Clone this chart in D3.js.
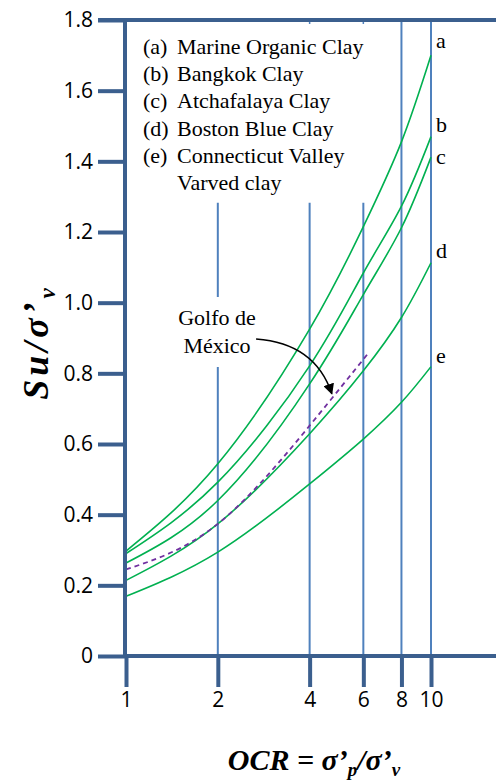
<!DOCTYPE html>
<html>
<head>
<meta charset="utf-8">
<script src="https://cdn.jsdelivr.net/npm/d3@7/dist/d3.min.js"></script>
<style>
  body { margin: 0; background: #fff; }
</style>
</head>
<body>
<div id="chart"></div>
<script>
// values
const ocr = [1, 2, 4, 6, 8, 10];
const clayA = [0.297, 0.544, 0.925, 1.215, 1.455, 1.700];
const clayB = [0.290, 0.492, 0.821, 1.084, 1.273, 1.470];
const clayC = [0.263, 0.440, 0.770, 1.023, 1.212, 1.412];
const clayD = [0.214, 0.374, 0.629, 0.807, 0.958, 1.113];
const clayE = [0.169, 0.294, 0.487, 0.614, 0.718, 0.819];
const curveNames = ["a", "b", "c", "d", "e"];

const golfoOcr = [1, 2, 4, 6.2];
const golfoSu = [0.245, 0.374, 0.652, 0.855];

const legendKeys = ["(a)", "(b)", "(c)", "(d)", "(e)", ""];
const legendNames = ["Marine Organic Clay", "Bangkok Clay", "Atchafalaya Clay",
                     "Boston Blue Clay", "Connecticut Valley", "Varved clay"];

const xTicks = [1, 2, 4, 6, 8, 10];
const yTicks = [0, 0.2, 0.4, 0.6, 0.8, 1.0, 1.2, 1.4, 1.6, 1.8];
const gridFull = [8, 10];
const gridShort = [2, 4, 6];

const W = 496, H = 784;
const axisColor = "#3b5f8e", gridColor = "#4f81bd", green = "#00b050";
const serif = "'Liberation Serif', 'Times New Roman', serif";

const svg = d3.select("#chart").append("svg")
    .attr("width", W)
    .attr("height", H);

const x = d3.scaleLog().domain([1, 10]).range([126, 431]);
const y = d3.scaleLinear().domain([0, 1.8]).range([656, 20]);

// grid lines
svg.selectAll(".gfull")
    .data(gridFull)
    .join("line")
    .attr("x1", d => x(d)).attr("x2", d => x(d))
    .attr("y1", y(1.8)).attr("y2", y(0))
    .attr("stroke", gridColor).attr("stroke-width", 2);

svg.selectAll(".gshort")
    .data(gridShort)
    .join("line")
    .attr("x1", d => x(d)).attr("x2", d => x(d))
    .attr("y1", y(1.283)).attr("y2", y(0))
    .attr("stroke", gridColor).attr("stroke-width", 2);

// little marks on the top frame
svg.selectAll(".gstub")
    .data([4, 6])
    .join("line")
    .attr("x1", d => x(d)).attr("x2", d => x(d))
    .attr("y1", y(1.8)).attr("y2", y(1.8) + 4)
    .attr("stroke", gridColor).attr("stroke-width", 1.5);

// curves
const line = d3.line()
    .x(d => x(d[0]))
    .y(d => y(d[1]))
    .curve(d3.curveNatural);

const clays = [clayA, clayB, clayC, clayD, clayE];
svg.selectAll(".clay")
    .data(clays)
    .join("path")
    .attr("d", vals => line(ocr.map((o, i) => [o, vals[i]])))
    .attr("fill", "none")
    .attr("stroke", green)
    .attr("stroke-width", 1.6);

svg.append("path")
    .attr("d", line(golfoOcr.map((o, i) => [o, golfoSu[i]])))
    .attr("fill", "none")
    .attr("stroke", "#7030a0")
    .attr("stroke-width", 1.8)
    .attr("stroke-dasharray", "5,4");

// curve letters
const letterDy = [-7, -5, 7, -5, -4];
svg.selectAll(".letter")
    .data(clays)
    .join("text")
    .attr("x", x(10) + 5)
    .attr("y", (vals, i) => y(vals[vals.length - 1]) + letterDy[i])
    .style("font-family", serif)
    .style("font-size", "22px")
    .text((d, i) => curveNames[i]);

// axes
const yAxis = svg.append("g")
    .attr("transform", "translate(125,0)")
    .call(d3.axisLeft(y).tickValues(yTicks).tickSize(27).tickPadding(5)
        .tickFormat(d => d === 0 ? "0" : d.toFixed(1)));
const xAxis = svg.append("g")
    .attr("transform", `translate(0,${y(0)})`)
    .call(d3.axisBottom(x).tickValues(xTicks).tickSize(31).tickPadding(5)
        .tickFormat(d3.format("d")));

[yAxis, xAxis].forEach(g => {
    g.select(".domain").remove();
    g.selectAll(".tick line").attr("stroke", axisColor).attr("stroke-width", 4);
    g.selectAll(".tick text")
        .attr("fill", "#000")
        .style("font-family", "'Open Sans', sans-serif")
        .style("font-size", "21px");
});

svg.append("line")
    .attr("x1", 125).attr("x2", 125)
    .attr("y1", y(1.8)).attr("y2", y(0) + 2)
    .attr("stroke", axisColor).attr("stroke-width", 4);
svg.append("line")
    .attr("x1", 123).attr("x2", W)
    .attr("y1", y(0)).attr("y2", y(0))
    .attr("stroke", axisColor).attr("stroke-width", 4);
svg.append("line")
    .attr("x1", 98).attr("x2", W)
    .attr("y1", y(1.8)).attr("y2", y(1.8))
    .attr("stroke", axisColor).attr("stroke-width", 4);

// legend
const legend = svg.append("g")
    .style("font-family", serif)
    .style("font-size", "22px");
legend.selectAll(".lk")
    .data(legendKeys)
    .join("text")
    .attr("x", 143)
    .attr("y", (d, i) => 54 + i * 27.2)
    .text(d => d);
legend.selectAll(".ln")
    .data(legendNames)
    .join("text")
    .attr("x", 177)
    .attr("y", (d, i) => 54 + i * 27.2)
    .text(d => d);

// annotation
svg.append("rect")
    .attr("x", 172).attr("y", 297)
    .attr("width", 90).attr("height", 70)
    .attr("fill", "#fff");
svg.append("text")
    .attr("x", 217).attr("y", 325)
    .attr("text-anchor", "middle")
    .style("font-family", serif)
    .style("font-size", "22px")
    .selectAll("tspan")
    .data(["Golfo de", "México"])
    .join("tspan")
    .attr("x", 217)
    .attr("dy", (d, i) => i ? 28 : 0)
    .text(d => d);

svg.append("defs").append("marker")
    .attr("id", "head")
    .attr("viewBox", "0 0 10 10")
    .attr("refX", 9).attr("refY", 5)
    .attr("markerWidth", 11).attr("markerHeight", 11)
    .attr("markerUnits", "userSpaceOnUse")
    .attr("orient", "auto")
    .append("path")
    .attr("d", "M0,0L10,5L0,10Z")
    .attr("fill", "#000");

const arrowFrom = [2.67, 0.897], arrowMid = [3.45, 0.885], arrowTo = [4.73, 0.742];
svg.append("path")
    .attr("d", `M${x(arrowFrom[0])},${y(arrowFrom[1])} Q${x(arrowMid[0]) + 25},${y(arrowMid[1])} ${x(arrowTo[0])},${y(arrowTo[1])}`)
    .attr("fill", "none")
    .attr("stroke", "#000")
    .attr("stroke-width", 1.5)
    .attr("marker-end", "url(#head)");

// axis titles
const yTitle = svg.append("text")
    .attr("transform", "translate(48,342) rotate(-90)")
    .attr("text-anchor", "middle")
    .style("font-family", serif)
    .style("font-weight", "bold")
    .style("font-style", "italic")
    .style("font-size", "36px")
    .style("letter-spacing", "4px");
yTitle.append("tspan").text("Su/σ’");
yTitle.append("tspan").style("font-size", "23px").attr("dy", 7).text("v");

const xTitle = svg.append("text")
    .attr("x", 314).attr("y", 770)
    .attr("text-anchor", "middle")
    .style("font-family", serif)
    .style("font-weight", "bold")
    .style("font-style", "italic")
    .style("font-size", "30px");
xTitle.append("tspan").text("OCR = σ’");
xTitle.append("tspan").style("font-size", "19px").attr("dy", 6).text("p");
xTitle.append("tspan").attr("dy", -6).text("/σ’");
xTitle.append("tspan").style("font-size", "19px").attr("dy", 6).text("v");
</script>
</body>
</html>
